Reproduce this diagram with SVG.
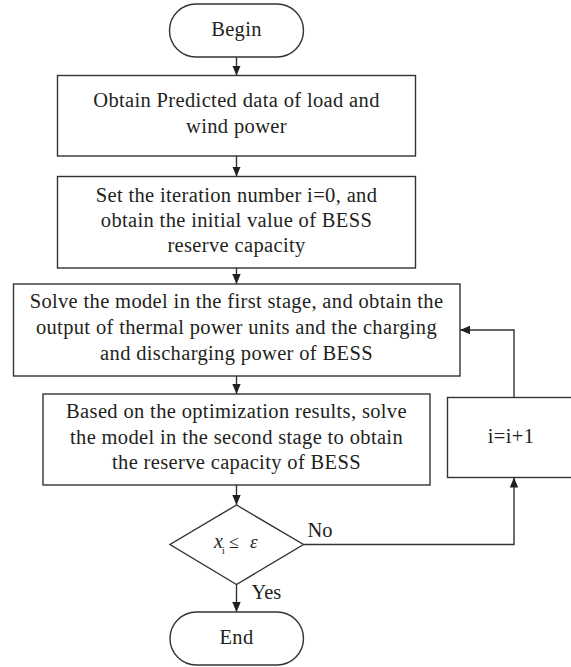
<svg xmlns="http://www.w3.org/2000/svg" width="571" height="667" viewBox="0 0 571 667">
<style>
.n{fill:#fff;stroke:#333;stroke-width:1.4}
.t{font-family:"Liberation Serif","Times New Roman",serif;font-size:20.5px;letter-spacing:0.35px;fill:#231f20;text-anchor:middle}
.c{fill:none;stroke:#333;stroke-width:1.4}
.l{font-family:"Liberation Serif","Times New Roman",serif;font-size:20.5px;fill:#231f20}
</style>
<defs>
<marker id="ah" markerUnits="userSpaceOnUse" markerWidth="10" markerHeight="10" viewBox="0 0 10 10" refX="10" refY="5" orient="auto">
<path d="M0,0.8 L10,5 L0,9.2 Z" fill="#231f20"/>
</marker>
</defs>
<g id="connectors">
<line class="c" x1="236.5" y1="57" x2="236.5" y2="75.5" marker-end="url(#ah)"/>
<line class="c" x1="236.5" y1="156" x2="236.5" y2="176.5" marker-end="url(#ah)"/>
<line class="c" x1="236.5" y1="268" x2="236.5" y2="284" marker-end="url(#ah)"/>
<line class="c" x1="236.5" y1="376" x2="236.5" y2="394" marker-end="url(#ah)"/>
<line class="c" x1="236.5" y1="485" x2="236.5" y2="505" marker-end="url(#ah)"/>
<line class="c" x1="236.5" y1="584.5" x2="236.5" y2="612" marker-end="url(#ah)"/>
<polyline class="c" points="303.5,544.5 514,544.5 514,477.5" marker-end="url(#ah)"/>
<polyline class="c" points="514,397.5 514,330 460,330" marker-end="url(#ah)"/>
<text class="l" x="307.5" y="537">No</text>
<text class="l" x="251.5" y="599">Yes</text>
</g>
<g id="begin">
<rect class="n" x="169.5" y="4" width="134" height="53" rx="26.5" ry="26.5"/>
<text class="t" x="236.5" y="36">Begin</text>
</g>
<g id="obtain">
<rect class="n" x="57.5" y="75.5" width="358" height="80.5"/>
<text class="t" x="236.5" y="107">Obtain Predicted data of load and</text>
<text class="t" x="236.5" y="133">wind power</text>
</g>
<g id="init">
<rect class="n" x="57.5" y="176.5" width="358" height="91.5"/>
<text class="t" x="236.5" y="202">Set the iteration number i=0, and</text>
<text class="t" x="236.5" y="227">obtain the initial value of BESS</text>
<text class="t" x="236.5" y="252">reserve capacity</text>
</g>
<g id="stage1">
<rect class="n" x="13.5" y="284" width="446.5" height="92"/>
<text class="t" x="236.5" y="308">Solve the model in the first stage, and obtain the</text>
<text class="t" x="236.5" y="334">output of thermal power units and the charging</text>
<text class="t" x="236.5" y="360">and discharging power of BESS</text>
</g>
<g id="stage2">
<rect class="n" x="43" y="394" width="387" height="91"/>
<text class="t" x="236.5" y="418">Based on the optimization results, solve</text>
<text class="t" x="236.5" y="443.5">the model in the second stage to obtain</text>
<text class="t" x="236.5" y="469">the reserve capacity of BESS</text>
</g>
<g id="increment">
<rect class="n" x="447.5" y="397.5" width="134" height="80"/>
<text class="t" x="511" y="443">i=i+1</text>
</g>
<g id="check">
<polygon class="n" points="236.5,505 303.5,544.5 236.5,584.5 170,544.5"/>
<text class="l" x="214" y="548" style="font-style:italic;font-size:20px">x</text>
<text class="l" x="222" y="554" style="font-size:10px">i</text>
<text class="l" x="229" y="548" style="font-size:18px">≤</text>
<text class="l" x="250" y="548" style="font-style:italic;font-size:19px">ε</text>
</g>
<g id="end">
<rect class="n" x="170" y="612" width="133.5" height="53" rx="26.5" ry="26.5"/>
<text class="t" x="236.5" y="644">End</text>
</g>
</svg>
